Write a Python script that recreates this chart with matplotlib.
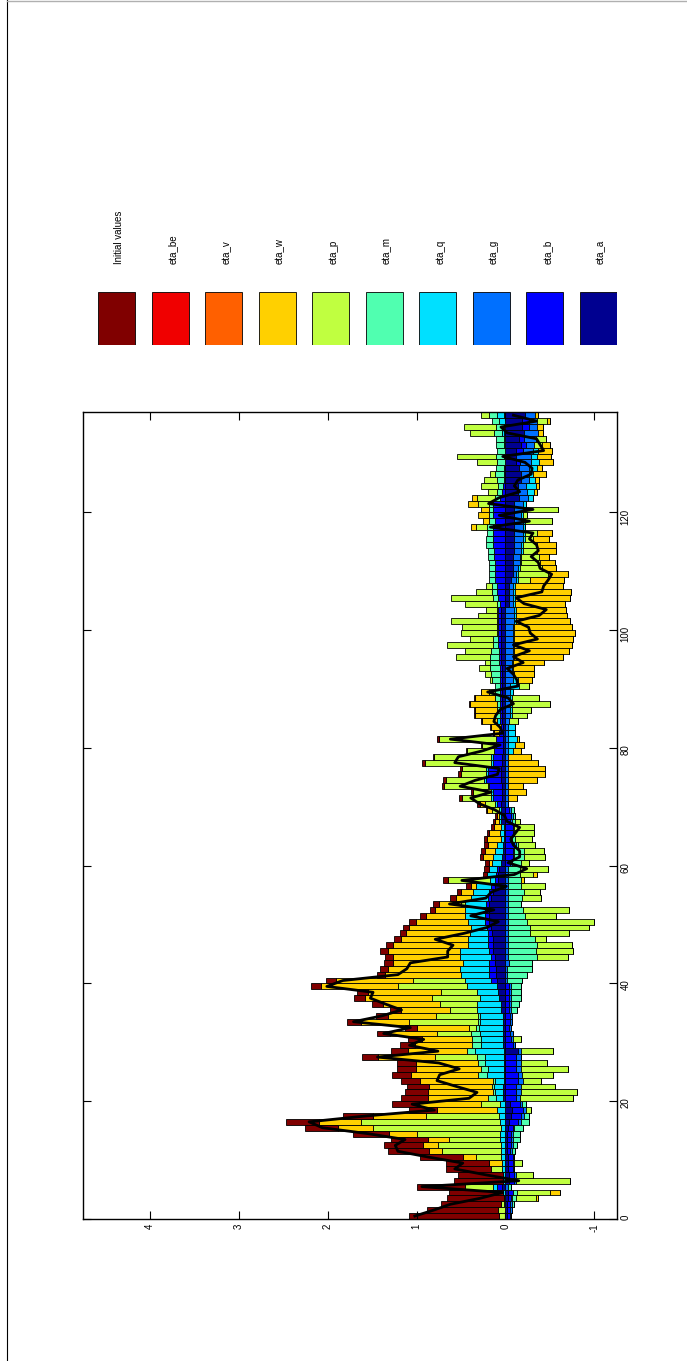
import numpy as np
import matplotlib.pyplot as plt
from matplotlib.lines import Line2D

plt.rcParams['font.family'] = ['Liberation Sans', 'DejaVu Sans']
plt.rcParams['axes.unicode_minus'] = False

# legend order (left to right in the rotated page)
labels = ['Initial values', 'eta_be', 'eta_v', 'eta_w', 'eta_p',
          'eta_m', 'eta_q', 'eta_g', 'eta_b', 'eta_a']
colors = ['#800000', '#f00000', '#ff6000', '#ffd000', '#c0ff40',
          '#50ffb0', '#00e0ff', '#0070ff', '#0000ff', '#000090']

# contributions per period (137 periods)
init_vals = [
    1.01, 0.80, 0.67, 0.64, 0.61, 0.55, 0.55, 0.50, 0.51, 0.49,
    0.48, 0.46, 0.44, 0.42, 0.40, 0.37, 0.37, 0.34, 0.32, 0.31,
    0.30, 0.26, 0.25, 0.21, 0.22, 0.21, 0.21, 0.18, 0.19, 0.17,
    0.16, 0.15, 0.14, 0.15, 0.14, 0.12, 0.12, 0.12, 0.12, 0.11,
    0.11, 0.10, 0.09, 0.10, 0.09, 0.09, 0.07, 0.07, 0.07, 0.07,
    0.07, 0.07, 0.06, 0.06, 0.06, 0.05, 0.05, 0.05, 0.04, 0.05,
    0.04, 0.04, 0.04, 0.04, 0.03, 0.03, 0.03, 0.02, 0.02, 0.01,
    0.03, 0.03, 0.03, 0.02, 0.03, 0.03, 0.02, 0.03, 0.02, 0.01,
    0.01, 0.02, 0.01, 0.01, 0.01, 0.01, 0.01, 0.01, 0.01, 0.01,
    0.0, 0.0, 0.0, 0.0, 0.0, 0.0, 0.0, 0.0, 0.0, 0.0,
    0.0, 0.0, 0.0, 0.0, 0.0, 0.0, 0.0, 0.0, 0.0, 0.0,
    0.0, 0.0, 0.0, 0.0, 0.0, 0.0, 0.0, 0.0, 0.0, 0.0,
    0.0, 0.0, 0.0, 0.0, 0.0, 0.0, 0.0, 0.0, 0.0, 0.0,
    0.0, 0.0, 0.0, 0.0, 0.0, 0.0, 0.0]

eta_be = [
    0, 0, 0, 0, 0, 0, 0, 0, 0, 0,
    0, 0, 0, 0, 0, 0, 0, 0, 0, 0,
    0, 0, 0, 0, 0, 0, 0, 0, 0, 0,
    0, 0, 0, 0, 0, 0, 0, 0, 0, 0,
    0, 0, 0, 0, 0, 0, 0, 0, 0, 0,
    0, 0, 0, 0, 0, 0, 0, 0, 0, 0,
    0, 0, 0, 0, 0, 0, 0, 0, 0, 0,
    0, 0, 0, 0, 0, 0, 0, 0, 0, 0,
    0, 0, 0, 0, 0, 0, 0, 0, 0, 0,
    0, 0, 0, 0, 0, 0, 0, 0, 0, 0,
    0, 0, 0, 0, 0, 0, 0, 0, 0, 0,
    0, 0, 0, 0, 0, 0, 0, 0, 0, 0,
    0, 0, 0, 0, 0, 0, 0, 0, 0, 0,
    0, 0, 0, 0, 0, 0, 0]

eta_v = [
    0, 0, 0, 0, 0, 0, 0, 0, 0, 0,
    0, 0, 0, 0, 0, 0, 0, 0, 0, 0,
    0, 0, 0, 0, 0, 0, 0, 0, 0, 0,
    0, 0, 0, 0, 0, 0, 0, 0, 0, 0,
    0, 0, 0, 0, 0, 0, 0, 0, 0, 0,
    0, 0, 0, 0, 0, 0, 0, 0, 0, 0,
    0, 0, 0, 0, 0, 0, 0, 0, 0, 0,
    0, 0, 0, 0, 0, 0, 0, 0, 0, 0,
    0, 0, 0, 0, 0, 0, 0, 0, 0, 0,
    0, 0, 0, 0, 0, 0, 0, 0, 0, 0,
    0, 0, 0, 0, 0, 0, 0, 0, 0, 0,
    0, 0, 0, 0, 0, 0, 0, 0, 0, 0,
    0, 0, 0, 0, 0, 0, 0, 0, 0, 0,
    0, 0, 0, 0, 0, 0, 0]

eta_w = [
    0.0, 0.0, 0.0, -0.03, -0.11, 0.0, 0.0, 0.0, 0.0, 0.14,
    0.15, 0.15, 0.17, 0.23, 0.31, 0.40, 0.48, 0.60, 0.67, 0.69,
    0.67, 0.73, 0.71, 0.82, 0.75, 0.73, 0.70, 0.64, 0.67, 0.64,
    0.56, 0.53, 0.58, 0.55, 0.54, 0.56, 0.64, 0.75, 0.82, 0.87,
    0.87, 0.85, 0.81, 0.79, 0.75, 0.81, 0.85, 0.76, 0.72, 0.69,
    0.59, 0.44, 0.34, 0.25, 0.17, 0.13, 0.06, -0.04, -0.04, 0.0,
    0.04, 0.11, 0.11, 0.10, 0.16, 0.12, 0.08, 0.05, 0.03, 0.06,
    0.06, -0.10, -0.20, -0.17, -0.33, -0.41, -0.41, -0.34, -0.26, -0.10,
    -0.10, -0.02, 0.06, 0.11, 0.17, 0.22, 0.24, 0.30, 0.22, 0.09,
    0.0, -0.16, -0.22, -0.23, -0.34, -0.55, -0.62, -0.65, -0.66, -0.68,
    -0.65, -0.61, -0.57, -0.56, -0.56, -0.62, -0.63, -0.54, -0.38, -0.22,
    -0.16, -0.17, -0.11, -0.22, -0.22, -0.18, -0.16, 0.06, 0.06, 0.13,
    0.10, 0.11, 0.06, -0.04, -0.04, -0.05, -0.15, -0.06, -0.16, -0.16,
    -0.15, -0.09, 0.0, -0.05, -0.06, -0.03, -0.04]

eta_p = [
    0.06, 0.07, 0.03, -0.22, -0.37, 0.31, -0.61, -0.19, 0.12, -0.09,
    0.28, 0.66, 0.71, 0.58, 0.94, 1.44, 1.56, 0.82, -0.06, 0.22,
    -0.60, -0.64, -0.39, -0.20, -0.35, -0.53, -0.30, 0.47, -0.35, 0.0,
    -0.09, 0.38, 0.08, 0.77, 0.47, 0.30, 0.42, 0.54, 0.41, 0.78,
    0.59, 0.0, 0.0, 0.0, -0.34, -0.42, -0.39, -0.13, -0.44, -0.66,
    -0.76, -0.35, -0.52, 0.04, -0.21, -0.18, -0.28, 0.48, -0.15, -0.32,
    -0.09, -0.24, -0.22, -0.19, -0.19, -0.22, -0.22, -0.05, 0.0, 0.08,
    0.11, 0.33, 0.20, 0.49, 0.43, 0.28, 0.27, 0.75, 0.64, 0.30,
    0.15, 0.64, 0.0, 0.0, -0.10, -0.17, -0.22, -0.43, -0.31, 0.06,
    -0.11, 0.02, 0.07, 0.13, 0.06, 0.39, 0.29, 0.52, 0.26, 0.40,
    0.39, 0.51, 0.21, 0.12, 0.37, 0.47, 0.18, 0.07, -0.14, -0.34,
    -0.25, -0.21, -0.20, -0.15, -0.15, -0.09, -0.14, 0.12, -0.30, -0.04,
    -0.37, 0.12, 0.20, 0.10, 0.20, 0.14, 0.05, 0.0, 0.23, 0.43,
    0.0, -0.09, -0.12, 0.27, 0.36, -0.11, 0.09]

eta_m = [
    0.0, 0.0, -0.03, -0.05, -0.04, -0.03, 0.0, 0.0, 0.0, 0.0,
    0.0, -0.04, -0.05, -0.08, -0.08, -0.10, -0.09, -0.05, 0.0, -0.04,
    0.09, 0.02, 0.02, 0.02, 0.10, 0.08, 0.08, 0.09, 0.09, 0.11,
    0.10, 0.10, 0.03, 0.02, 0.02, -0.07, -0.09, -0.12, -0.12, -0.12,
    -0.17, -0.22, -0.28, -0.26, -0.33, -0.31, -0.33, -0.30, -0.25, -0.25,
    -0.21, -0.19, -0.17, -0.15, -0.16, -0.18, -0.14, -0.14, -0.13, -0.13,
    -0.10, -0.11, -0.11, -0.02, -0.04, 0.0, 0.0, -0.04, -0.03, -0.04,
    0.0, 0.0, 0.0, 0.0, 0.0, 0.0, 0.0, 0.0, 0.0, 0.0,
    0.0, 0.0, 0.0, 0.0, 0.0, 0.06, 0.04, 0.04, 0.06, 0.06,
    0.06, 0.09, 0.10, 0.11, 0.10, 0.10, 0.09, 0.06, 0.06, 0.02,
    0.02, 0.02, 0.02, 0.02, 0.03, 0.06, 0.05, 0.05, 0.06, 0.06,
    0.06, 0.07, 0.07, 0.07, 0.08, 0.08, 0.07, 0.07, 0.07, 0.04,
    0.04, 0.05, 0.06, 0.06, 0.05, 0.08, 0.10, 0.09, 0.09, 0.09,
    0.09, 0.09, 0.09, 0.09, 0.09, 0.08, 0.10]

eta_q = [
    0.01, 0.01, 0.02, 0.02, 0.03, 0.05, 0.03, 0.03, 0.04, 0.04,
    0.05, 0.05, 0.05, 0.06, 0.06, 0.05, 0.06, 0.07, 0.10, 0.06,
    0.08, 0.09, 0.10, 0.10, 0.19, 0.18, 0.21, 0.21, 0.32, 0.24,
    0.25, 0.26, 0.27, 0.26, 0.26, 0.27, 0.27, 0.22, 0.24, 0.33,
    0.29, 0.32, 0.32, 0.30, 0.35, 0.33, 0.22, 0.22, 0.20, 0.18,
    0.19, 0.22, 0.22, 0.24, 0.19, 0.19, 0.17, 0.05, 0.10, 0.09,
    0.10, 0.10, 0.09, 0.07, 0.03, 0.04, 0.03, 0.02, 0.02, 0.02,
    0.02, 0.02, 0.02, 0.02, 0.02, 0.02, 0.02, 0.02, 0.02, -0.05,
    -0.08, -0.10, -0.08, -0.08, 0.03, -0.02, -0.02, -0.02, -0.02, -0.03,
    -0.10, -0.06, -0.02, -0.02, -0.02, -0.02, -0.02, -0.02, -0.02, -0.02,
    -0.02, -0.02, -0.02, -0.02, -0.02, -0.02, -0.02, -0.02, -0.02, -0.02,
    -0.02, -0.02, -0.02, -0.02, -0.02, -0.02, -0.02, -0.02, -0.02, -0.02,
    -0.02, -0.03, -0.06, -0.08, -0.11, -0.06, -0.04, -0.08, -0.09, -0.06,
    -0.06, 0.02, 0.02, 0.02, 0.02, 0.07, 0.07]

eta_g = [
    -0.01, -0.02, -0.02, -0.01, -0.01, -0.03, -0.02, -0.02, -0.02, -0.02,
    -0.02, -0.02, -0.02, -0.02, -0.02, -0.02, -0.03, -0.03, -0.03, -0.03,
    -0.04, -0.05, -0.05, -0.06, -0.05, -0.05, -0.05, -0.05, -0.04, -0.03,
    -0.03, -0.03, -0.02, -0.02, -0.02, -0.02, -0.02, -0.02, -0.02, -0.02,
    -0.02, -0.02, -0.02, -0.04, -0.03, -0.03, -0.03, -0.03, -0.03, -0.03,
    -0.03, -0.03, -0.03, -0.03, -0.03, -0.03, -0.03, -0.03, -0.03, -0.03,
    -0.02, -0.02, -0.02, -0.02, -0.02, -0.02, -0.02, -0.02, -0.02, -0.02,
    -0.03, -0.03, -0.03, -0.03, -0.03, -0.03, -0.03, -0.03, -0.03, -0.03,
    -0.03, -0.03, -0.03, -0.03, -0.04, -0.05, -0.05, -0.05, -0.05, -0.05,
    -0.05, -0.08, -0.08, -0.07, -0.07, -0.08, -0.08, -0.08, -0.08, -0.08,
    -0.08, -0.10, -0.10, -0.10, -0.05, -0.05, -0.05, -0.05, -0.06, -0.04,
    -0.06, -0.08, -0.08, -0.08, -0.08, -0.10, -0.10, -0.10, -0.10, -0.08,
    -0.10, -0.10, -0.10, -0.10, -0.09, -0.10, -0.10, -0.12, -0.13, -0.17,
    -0.11, -0.09, -0.13, -0.16, -0.09, -0.09, -0.11]

eta_b = [
    -0.03, -0.03, -0.03, -0.03, -0.05, 0.05, -0.06, -0.06, -0.05, -0.05,
    -0.05, -0.03, -0.04, -0.04, -0.04, -0.05, -0.10, -0.12, -0.13, -0.11,
    -0.12, -0.12, -0.12, -0.14, -0.14, -0.12, -0.12, -0.12, 0.02, -0.08,
    -0.06, -0.05, -0.04, -0.05, -0.05, -0.04, -0.04, -0.04, -0.04, -0.04,
    0.06, 0.07, 0.08, 0.06, 0.04, 0.04, 0.06, 0.06, 0.05, 0.05,
    0.04, 0.04, 0.04, 0.04, 0.04, 0.04, 0.04, 0.04, 0.03, 0.03,
    -0.05, -0.08, -0.08, -0.10, -0.05, -0.08, -0.08, -0.05, -0.06, -0.04,
    0.05, 0.10, 0.10, 0.14, 0.17, 0.15, 0.15, 0.10, 0.10, 0.10,
    0.08, 0.08, 0.04, 0.02, 0.02, 0.02, 0.02, 0.02, 0.02, 0.02,
    0.02, 0.02, 0.02, 0.02, 0.02, 0.02, 0.02, 0.03, 0.03, 0.03,
    0.03, 0.03, 0.03, 0.03, 0.06, 0.08, 0.10, 0.10, 0.12, 0.12,
    0.12, 0.12, 0.13, 0.13, 0.14, 0.14, 0.14, 0.14, 0.12, 0.14,
    0.14, 0.14, 0.06, 0.04, 0.03, 0.02, 0.02, 0.02, -0.04, 0.02,
    -0.08, -0.06, -0.06, 0.02, -0.08, -0.08, 0.02]

eta_a = [
    -0.02, -0.02, -0.02, -0.03, -0.03, 0.04, -0.04, -0.04, -0.03, -0.03,
    -0.03, -0.02, -0.02, -0.02, -0.02, -0.03, -0.04, -0.06, -0.07, -0.05,
    0.03, 0.03, 0.03, 0.02, 0.02, 0.02, 0.02, 0.02, -0.14, 0.03,
    0.03, 0.03, 0.03, 0.03, 0.03, 0.05, 0.05, 0.07, 0.08, 0.10,
    0.10, 0.11, 0.11, 0.12, 0.12, 0.14, 0.14, 0.14, 0.15, 0.16,
    0.19, 0.19, 0.19, 0.18, 0.16, 0.14, 0.12, 0.08, 0.08, 0.07,
    0.05, 0.04, 0.03, 0.03, 0.02, 0.02, 0.02, 0.05, 0.05, 0.05,
    0.05, 0.04, 0.04, 0.04, 0.05, 0.05, 0.05, 0.04, 0.04, 0.03,
    0.03, 0.03, 0.03, 0.03, 0.04, 0.04, 0.04, 0.04, 0.04, 0.04,
    0.04, 0.04, 0.04, 0.04, 0.05, 0.05, 0.05, 0.05, 0.05, 0.05,
    0.05, 0.05, 0.05, 0.05, -0.04, -0.04, -0.04, -0.04, -0.06, -0.08,
    -0.08, -0.08, -0.08, -0.10, -0.10, -0.10, -0.10, -0.10, -0.10, -0.10,
    -0.10, -0.10, -0.15, -0.14, -0.14, -0.17, -0.17, -0.15, -0.12, -0.12,
    -0.12, -0.17, -0.15, -0.21, -0.19, -0.19, -0.22]

series = [init_vals, eta_be, eta_v, eta_w, eta_p, eta_m, eta_q, eta_g, eta_b, eta_a]

W, H = 687, 1361
fig = plt.figure(figsize=(W / 100, H / 100), dpi=100)

# main panel, drawn already turned on its side (time runs upward)
ax = fig.add_axes([82.5 / W, 1 - 1219 / H, 534 / W, 806.7 / H])
n = len(init_vals)
t = np.arange(n)
pos = np.zeros(n)
neg = np.zeros(n)
# stack: first shock nearest zero, initial values outermost
for vals, col in zip(series[::-1], colors[::-1]):
    v = np.array(vals, dtype=float)
    left = np.where(v > 0, pos, neg)
    ax.barh(t, v, height=1, left=left, align='edge', color=col,
            edgecolor='black', linewidth=0.6)
    pos += np.where(v > 0, v, 0)
    neg += np.where(v > 0, 0, v)

total = np.sum(np.array(series, dtype=float), axis=0)
ax.plot(total, t + 0.5, color='black', lw=2)

ax.set_xlim(4.76, -1.25)
ax.set_ylim(0, n)
ax.set_xticks([-1, 0, 1, 2, 3, 4])
ax.set_yticks([0, 20, 40, 60, 80, 100, 120])
ax.tick_params(direction='in', length=5.5, width=0.8, top=True, bottom=True,
               left=True, right=True, labelleft=False, labelright=True,
               labelsize=7, pad=3)
ax.tick_params(axis='x', labelrotation=90)
ax.tick_params(axis='y', labelrotation=90)
for s in ax.spines.values():
    s.set_linewidth(1.0)

# legend panel: coloured boxes with rotated names
lax = fig.add_axes([98 / W, 1 - 345 / H, 519 / W, 165 / H])
lax.set_xlim(-0.345, 9.345)
lax.set_ylim(0, 165)
idx = np.arange(len(labels))
lax.bar(idx, [53] * len(labels), width=0.69, color=colors,
        edgecolor='black', linewidth=0.6)
for i, lab in enumerate(labels):
    lax.text(i + 0.05, 81, lab, rotation=90, ha='center', va='bottom',
             fontsize=7)
lax.axis('off')

# page border
fig.add_artist(Line2D([7 / W, 7 / W], [0, 1], color='black', lw=0.8))
fig.add_artist(Line2D([7 / W, 1], [1 - 0.6 / H, 1 - 0.6 / H],
                      color='#b0b0b0', lw=1))

fig.savefig('out.png', dpi=100)
